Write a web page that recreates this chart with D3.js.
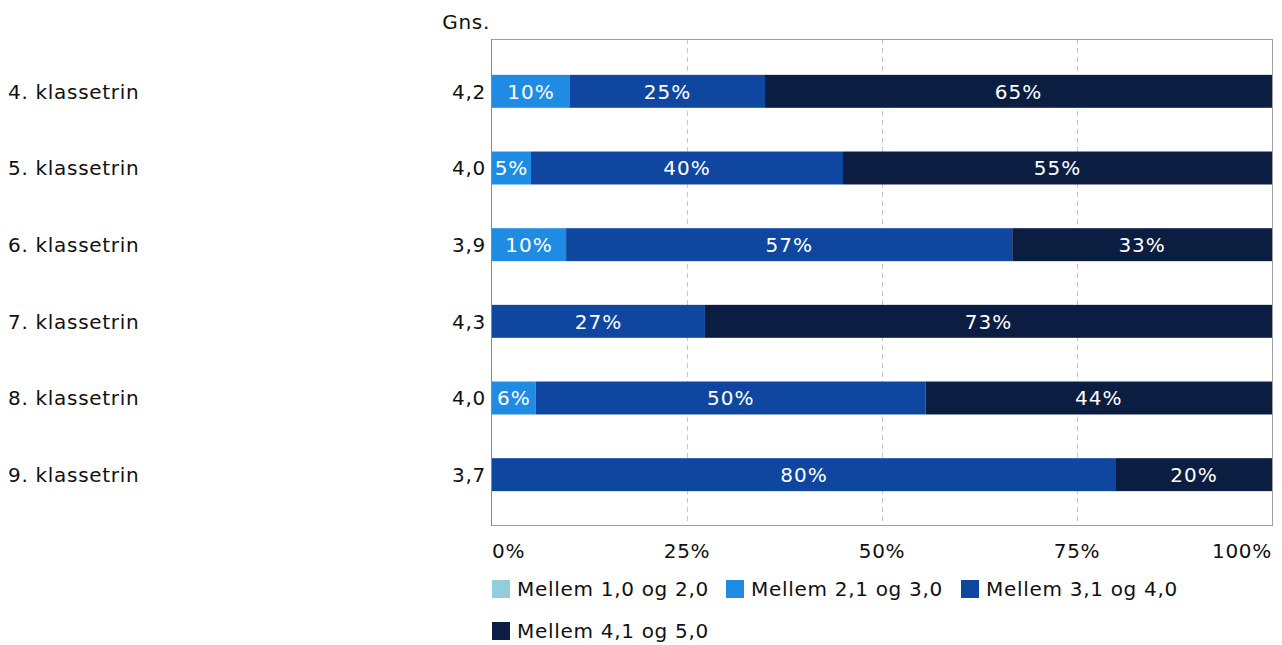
<!DOCTYPE html>
<html>
<head>
<meta charset="utf-8">
<script src="https://cdn.jsdelivr.net/npm/d3@7"></script>
<style>
  body { margin: 0; background: #fff; }
  svg { display: block; }
  .lbl { font-family: Verdana, "DejaVu Sans", sans-serif; font-size: 20px; letter-spacing: 0.7px; fill: #111; }
  .seg-text { font-family: Verdana, "DejaVu Sans", sans-serif; font-size: 20px; letter-spacing: 1px; fill: #fff; }
</style>
</head>
<body>
<svg id="chart" width="1282" height="645"></svg>
<script>
// data
const categories = ["4. klassetrin", "5. klassetrin", "6. klassetrin", "7. klassetrin", "8. klassetrin", "9. klassetrin"];
const averages = ["4,2", "4,0", "3,9", "4,3", "4,0", "3,7"];
const seriesNames = ["Mellem 1,0 og 2,0", "Mellem 2,1 og 3,0", "Mellem 3,1 og 4,0", "Mellem 4,1 og 5,0"];
const seriesColors = ["#92cddc", "#1f8be3", "#0f47a0", "#0c1d42"];
const s1 = [0, 0, 0, 0, 0, 0];
const s2 = [10, 5, 9.5, 0, 5.6, 0];
const s3 = [25, 40, 57.2, 27.3, 50, 80];
const s4 = [65, 55, 33.3, 72.7, 44.4, 20];
const ticks = [0, 25, 50, 75, 100];

const svg = d3.select("#chart");
const plotL = 492, plotR = 1272, plotT = 39, plotB = 525;

const x = d3.scaleLinear().domain([0, 100]).range([plotL, plotR]);
const y = d3.scaleBand().domain(categories).range([53, 513]).paddingInner(0.57).paddingOuter(0.285);

const rows = categories.map((c, i) => ({ cat: c, avg: averages[i], v: [s1[i], s2[i], s3[i], s4[i]] }));
const stack = d3.stack().keys([0, 1, 2, 3]).value((d, k) => d.v[k]);
const layers = stack(rows);

// grid
svg.append("g").selectAll("line")
  .data(ticks.slice(1, -1))
  .join("line")
  .attr("x1", d => x(d) + 0.5).attr("x2", d => x(d) + 0.5)
  .attr("y1", plotT).attr("y2", plotB)
  .attr("stroke", "#c8c8c8").attr("stroke-dasharray", "5,4");

// bars
const lg = svg.append("g").selectAll("g").data(layers).join("g")
  .attr("fill", (d, i) => seriesColors[i]);
lg.selectAll("rect")
  .data(d => d.filter(p => p[1] > p[0]))
  .join("rect")
  .attr("x", d => x(d[0]))
  .attr("width", d => x(d[1]) - x(d[0]))
  .attr("y", d => y(d.data.cat))
  .attr("height", y.bandwidth());

// segment labels
const fmt = d3.format(".0f");
svg.append("g").selectAll("g").data(layers).join("g")
  .selectAll("text")
  .data(d => d.filter(p => p[1] > p[0]))
  .join("text")
  .attr("class", "seg-text")
  .attr("x", d => (x(d[0]) + x(d[1])) / 2)
  .attr("y", d => y(d.data.cat) + y.bandwidth() / 2)
  .attr("dy", "0.36em")
  .attr("text-anchor", "middle")
  .text(d => fmt(d[1] - d[0]) + "%");

// frame
svg.append("rect")
  .attr("x", plotL - 0.5).attr("y", plotT + 0.5)
  .attr("width", plotR - plotL + 1).attr("height", plotB - plotT)
  .attr("fill", "none").attr("stroke", "#a0a0a0");
svg.append("line")
  .attr("x1", plotL - 0.5).attr("x2", plotL - 0.5)
  .attr("y1", plotT).attr("y2", plotB + 1)
  .attr("stroke", "#888");

// category labels
svg.append("g").selectAll("text").data(rows).join("text")
  .attr("class", "lbl")
  .attr("x", 8)
  .attr("y", d => y(d.cat) + y.bandwidth() / 2)
  .attr("dy", "0.36em")
  .text(d => d.cat);

// averages
svg.append("text").attr("class", "lbl")
  .attr("x", 490).attr("y", 22).attr("dy", "0.36em")
  .attr("text-anchor", "end").text("Gns.");
svg.append("g").selectAll("text").data(rows).join("text")
  .attr("class", "lbl")
  .attr("x", 486)
  .attr("y", d => y(d.cat) + y.bandwidth() / 2)
  .attr("dy", "0.36em")
  .attr("text-anchor", "end")
  .text(d => d.avg);

// x axis labels
svg.append("g").selectAll("text").data(ticks).join("text")
  .attr("class", "lbl")
  .attr("x", d => x(d))
  .attr("y", 551).attr("dy", "0.36em")
  .attr("text-anchor", (d, i) => i === 0 ? "start" : i === ticks.length - 1 ? "end" : "middle")
  .text(d => d + "%");

// legend
const legendPos = [[492, 589], [726, 589], [961, 589], [492, 631]];
const leg = svg.append("g").selectAll("g").data(seriesNames).join("g")
  .attr("transform", (d, i) => `translate(${legendPos[i][0]},${legendPos[i][1]})`);
leg.append("rect").attr("x", 0).attr("y", -9).attr("width", 18).attr("height", 18)
  .attr("fill", (d, i) => seriesColors[i]);
leg.append("text").attr("class", "lbl").attr("x", 25).attr("dy", "0.36em").text(d => d);
</script>
</body>
</html>
